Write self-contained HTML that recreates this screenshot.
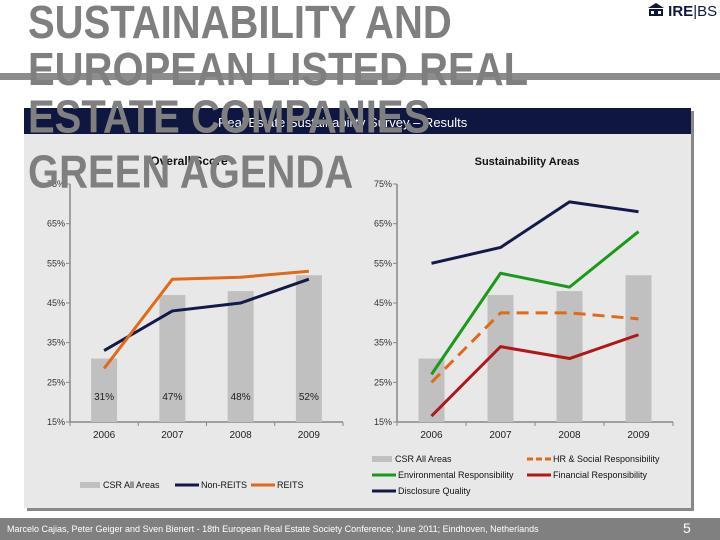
<!DOCTYPE html>
<html><head><meta charset="utf-8"><style>
body{margin:0;width:720px;height:540px;background:#fff;position:relative;overflow:hidden;font-family:"Liberation Sans",sans-serif}
.abs{position:absolute}
#title{left:28px;top:0px;font-size:40px;font-weight:bold;color:#7f7f7f;line-height:41px;z-index:3;white-space:nowrap;transform:scale(1,1.15);transform-origin:0 0}
</style></head><body>
<div class="abs" style="left:0;top:73px;width:720px;height:7px;background:#8c8c8c;z-index:1"></div>
<div class="abs" style="left:24px;top:108px;width:667px;height:400px;background:#e8e8e8;box-shadow:3px 3px 0 #888;z-index:0"></div>
<div class="abs" style="left:24px;top:108px;width:667px;height:26px;background:#0f1640;z-index:1"></div>
<div class="abs" style="left:218px;top:115px;font-size:13px;color:#fff;z-index:2">Real Estate Sustainability Survey – Results</div>
<div id="title" class="abs">SUSTAINABILITY AND<br>EUROPEAN LISTED REAL<br>ESTATE COMPANIES<br><span style="position:relative;top:7px">GREEN AGENDA</span></div>
<div class="abs" style="left:648px;top:3px;font-size:15px;font-weight:bold;color:#0f1640">
<svg width="16" height="14" style="vertical-align:-1px"><path d="M0 5 L8 0 L16 5 Z" fill="#0f1640"/><rect x="1" y="6" width="14" height="7" fill="#0f1640"/><rect x="3" y="8" width="3" height="3" fill="#fff"/><rect x="10" y="8" width="3" height="3" fill="#fff"/></svg> IRE<span style="font-weight:normal">|BS</span></div>
<div class="abs" style="left:0;top:518px;width:720px;height:22px;background:#808080"></div>
<div class="abs" style="left:7px;top:524px;font-size:9px;color:#fff">Marcelo Cajias, Peter Geiger and Sven Bienert - 18th European Real Estate Society Conference; June 2011; Eindhoven, Netherlands</div>
<div class="abs" style="left:683px;top:520px;font-size:14px;color:#fff">5</div>
<svg class="abs" id="chart" style="left:0;top:0;z-index:2" width="720" height="540"></svg>
<script>
const years=["2006","2007","2008","2009"];
const yTicks=[15,25,35,45,55,65,75];
const csrAll=[31,47,48,52];
const barLabels=["31%","47%","48%","52%"];
const nonReits=[33,43,45,51];
const reits=[28.5,51,51.5,53];
const disclosure=[55,59,70.5,68];
const environmental=[27,52.5,49,63];
const hrSocial=[25,42.5,42.5,41];
const financial=[16.5,34,31,37];
const NS="http://www.w3.org/2000/svg";
const svg=document.getElementById('chart');
function mk(t,a,p){const e=document.createElementNS(NS,t);for(const k in a)e.setAttribute(k,a[k]);(p||svg).appendChild(e);return e;}
function yS(v){return 422-(v-15)/60*238;}
function chart(x0,x1,name){
  const g=mk('g',{});
  
  
  const step=(x1-x0)/4;
  const xS=i=>x0+step*(i+0.5);
  mk('line',{x1:x0,y1:yS(75),x2:x0,y2:yS(15),stroke:'#888','stroke-width':1.5},g);
  mk('line',{x1:x0,y1:yS(15),x2:x1,y2:yS(15),stroke:'#888','stroke-width':1.5},g);
  yTicks.forEach(t=>{
    mk('line',{x1:x0-4,y1:yS(t),x2:x0,y2:yS(t),stroke:'#888'},g);
    const tx=mk('text',{x:x0-5,y:yS(t)+3,'text-anchor':'end','font-size':9,fill:'#333'},g);tx.textContent=t+'%';
    
    
  });
  for(let i=0;i<=4;i++)mk('line',{x1:x0+step*i,y1:yS(15),x2:x0+step*i,y2:yS(15)+4,stroke:'#888'},g);
  years.forEach((y,i)=>{const tx=mk('text',{x:xS(i),y:438,'text-anchor':'middle','font-size':10,fill:'#222'},g);tx.textContent=y;
    
    });
  csrAll.forEach((v,i)=>{const r=mk('rect',{x:xS(i)-13,y:yS(v),width:26,height:yS(15)-yS(v),fill:'#c0c0c0'},g);
    
    });
  return {g,xS};
}
function line(c,vals,color,name,dash){
  const p=mk('polyline',{points:vals.map((v,i)=>c.xS(i)+','+yS(v)).join(' '),fill:'none',stroke:color,'stroke-width':3,'stroke-linejoin':'round'},c.g);
  if(dash)p.setAttribute('stroke-dasharray',dash);
  
  
}
const L=chart(70,343,'overall-score-chart');
barLabels.forEach((t,i)=>{const tx=mk('text',{x:L.xS(i),y:400,'text-anchor':'middle','font-size':10,fill:'#222'},L.g);tx.textContent=t;
  
  });
line(L,nonReits,'#131a4a','non-reits-line');
line(L,reits,'#e0691a','reits-line');
const R=chart(397,673,'sustainability-areas-chart');
line(R,disclosure,'#131a4a','disclosure-quality-line');
line(R,environmental,'#1a9a1a','environmental-line');
line(R,hrSocial,'#e0691a','hr-social-line','12,7');
line(R,financial,'#b01818','financial-line');
function txt(x,y,s,sz,w,name,anchor){const t=mk('text',{x,y,'font-size':sz,'font-weight':w||'normal',fill:'#111','text-anchor':anchor||'start'});t.textContent=s;
  
  }
txt(189,165,'Overall Score',12,'bold','left-chart-title','middle');
txt(527,165,'Sustainability Areas',11,'bold','right-chart-title','middle');
function leg(x,y,color,label,name,bar,dash){
  if(bar)mk('rect',{x:x,y:y-5,width:20,height:6,fill:'#c0c0c0'});
  else{const l=mk('line',{x1:x,y1:y-2,x2:x+24,y2:y-2,stroke:color,'stroke-width':3});if(dash)l.setAttribute('stroke-dasharray',dash);}
  txt(x+(bar?23:26),y+1,label,9,'normal',name);
}
leg(80,487,'','CSR All Areas','legend-csr-all-areas',true);
leg(175,487,'#131a4a','Non-REITS','legend-non-reits');
leg(251,487,'#e0691a','REITS','legend-reits');
leg(372,461,'','CSR All Areas','legend-csr-all-areas-right',true);
leg(527,461,'#e0691a','HR & Social Responsibility','legend-hr-social',false,'6,3');
leg(372,477,'#1a9a1a','Environmental Responsibility','legend-environmental');
leg(527,477,'#b01818','Financial Responsibility','legend-financial');
leg(372,493,'#131a4a','Disclosure Quality','legend-disclosure');
</script>
</body></html>
